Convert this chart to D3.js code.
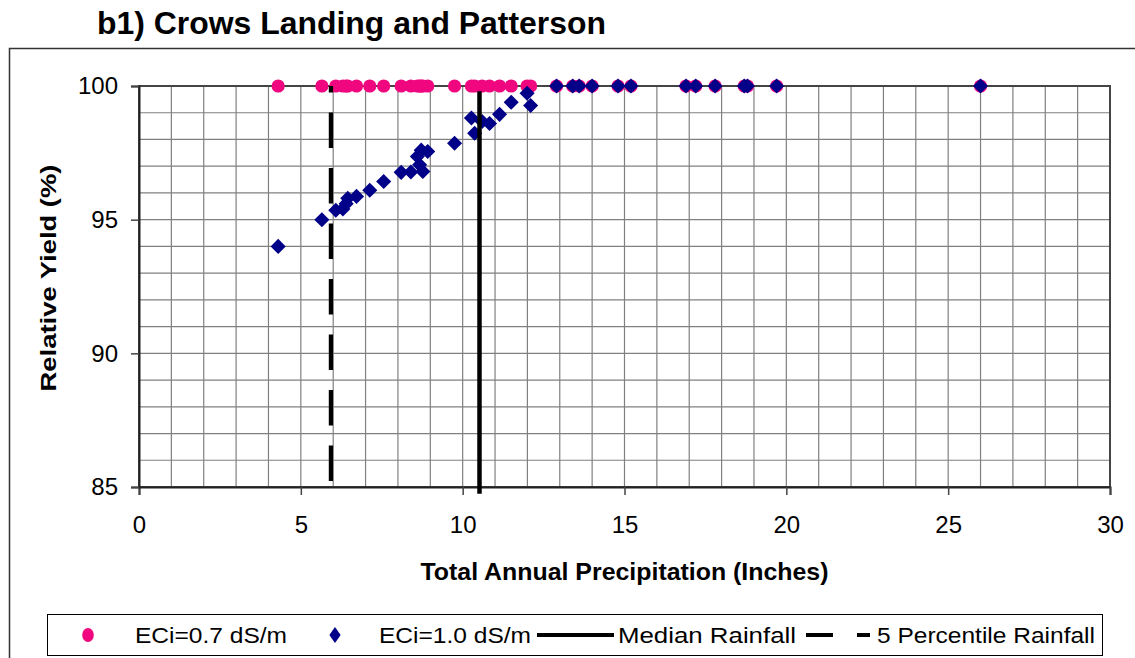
<!DOCTYPE html>
<html>
<head>
<meta charset="utf-8">
<script src="https://cdn.jsdelivr.net/npm/d3@7"></script>
<style>
  html, body { margin: 0; padding: 0; background: #fff; }
  svg { display: block; font-family: Arial, "Liberation Sans", sans-serif; }
</style>
</head>
<body>
<svg id="chart" width="1135" height="658"></svg>
<script>
// ---- data ----
const precip = [4.3, 5.65, 6.08, 6.3, 6.4, 6.45, 6.72, 7.13, 7.56, 8.1, 8.4, 8.6, 8.67, 8.72, 8.77, 8.92,
  9.75, 10.27, 10.37, 10.6, 10.83, 11.14, 11.5, 11.99, 12.1,
  12.9, 13.4, 13.6, 14.0, 14.8, 15.2, 16.9, 17.2, 17.8, 18.7, 18.8, 19.7, 26.0];
const yieldECi07 = [100, 100, 100, 100, 100, 100, 100, 100, 100, 100, 100, 100, 100, 100, 100, 100,
  100, 100, 100, 100, 100, 100, 100, 100, 100,
  100, 100, 100, 100, 100, 100, 100, 100, 100, 100, 100, 100, 100];
const yieldECi10 = [94.0, 95.0, 95.35, 95.4, 95.6, 95.8, 95.87, 96.1, 96.43, 96.77, 96.78, 97.36, 97.05, 97.6, 96.8, 97.55,
  97.86, 98.8, 98.23, 98.67, 98.6, 98.94, 99.39, 99.73, 99.27,
  100, 100, 100, 100, 100, 100, 100, 100, 100, 100, 100, 100, 100];
const medianRainfall = [{x: 10.52, y: 84.75}, {x: 10.52, y: 99.8}];
const pct5Rainfall = [{x: 5.93, y: 85.22}, {x: 5.93, y: 100}];
const xTicks = [0, 5, 10, 15, 20, 25, 30];
const yTicks = [85, 90, 95, 100];
const titleText = "b1) Crows Landing and Patterson";
const xTitle = "Total Annual Precipitation (Inches)";
const yTitle = "Relative Yield (%)";
const legendLabels = ["ECi=0.7 dS/m", "ECi=1.0 dS/m", "Median Rainfall", "5 Percentile Rainfall"];

// ---- layout ----
const svg = d3.select("#chart");
const L = 139, R = 1110, T = 86, B = 487;
const x = d3.scaleLinear().domain([0, 30]).range([L, R]);
const y = d3.scaleLinear().domain([85, 100]).range([B, T]);

svg.append("rect").attr("width", 1135).attr("height", 658).attr("fill", "#fff");

// outer chart border
svg.append("rect").attr("x", 9.5).attr("y", 48.5).attr("width", 1200).attr("height", 700)
  .attr("fill", "none").attr("stroke", "#333").attr("stroke-width", 1.5);

// title
svg.append("text").attr("x", 97).attr("y", 34)
  .attr("font-size", 31).attr("font-weight", "bold")
  .attr("textLength", 509).attr("lengthAdjust", "spacingAndGlyphs")
  .text(titleText);

// grid
const g = svg.append("g");
g.selectAll("line.vg").data(d3.range(1, 30)).join("line")
  .attr("x1", d => x(d)).attr("x2", d => x(d)).attr("y1", T).attr("y2", B)
  .attr("stroke", "#808080").attr("stroke-width", 1.2);
g.selectAll("line.hg").data(d3.range(86, 100)).join("line")
  .attr("y1", d => y(d)).attr("y2", d => y(d)).attr("x1", L).attr("x2", R)
  .attr("stroke", "#808080").attr("stroke-width", 1.2);

// plot border
svg.append("rect").attr("x", L).attr("y", T).attr("width", R - L).attr("height", B - T)
  .attr("fill", "none").attr("stroke", "#444").attr("stroke-width", 2);

// axes
const ax = svg.append("g").attr("transform", `translate(0,${B})`)
  .call(d3.axisBottom(x).tickValues(xTicks).tickSize(8).tickPadding(21).tickFormat(d3.format("d")));
ax.select(".domain").attr("stroke", "#222").attr("stroke-width", 2);
ax.selectAll(".tick line").attr("stroke", "#444").attr("stroke-width", 1.5);
ax.selectAll("text").attr("font-size", 24).attr("fill", "#000").attr("font-family", "Arial, 'Liberation Sans', sans-serif");

const ay = svg.append("g").attr("transform", `translate(${L},0)`)
  .call(d3.axisLeft(y).tickValues(yTicks).tickSize(8).tickPadding(13).tickFormat(d3.format("d")));
ay.select(".domain").attr("stroke", "#222").attr("stroke-width", 2);
ay.selectAll(".tick line").attr("stroke", "#444").attr("stroke-width", 1.5);
ay.selectAll("text").attr("font-size", 24).attr("fill", "#000").attr("font-family", "Arial, 'Liberation Sans', sans-serif");

// axis titles
svg.append("text").attr("x", (L + R) / 2 - 0).attr("y", 580).attr("text-anchor", "middle")
  .attr("font-size", 23).attr("font-weight", "bold")
  .attr("textLength", 408).attr("lengthAdjust", "spacingAndGlyphs")
  .text(xTitle);
svg.append("text").attr("transform", "translate(56,278) rotate(-90)").attr("text-anchor", "middle")
  .attr("font-size", 22).attr("font-weight", "bold")
  .attr("textLength", 227).attr("lengthAdjust", "spacingAndGlyphs")
  .text(yTitle);

// series
const pink = "#f0077f", navy = "#000088";
const pts07 = precip.map((p, i) => ({x: p, y: yieldECi07[i]}));
const pts10 = precip.map((p, i) => ({x: p, y: yieldECi10[i]}));
svg.append("g").selectAll("circle").data(pts07).join("circle")
  .attr("cx", d => x(d.x)).attr("cy", d => y(d.y)).attr("r", 6.6).attr("fill", pink);
const diamond = d3.symbol().type(d3.symbolDiamond2).size(145);
svg.append("g").selectAll("path").data(pts10).join("path")
  .attr("transform", d => `translate(${x(d.x)},${y(d.y)})`).attr("d", diamond).attr("fill", navy);

const line = d3.line().x(d => x(d.x)).y(d => y(d.y));
svg.append("path").datum(medianRainfall).attr("d", line)
  .attr("stroke", "#000").attr("stroke-width", 4.5).attr("fill", "none");
svg.append("path").datum(pct5Rainfall).attr("d", line)
  .attr("stroke", "#000").attr("stroke-width", 4.3).attr("fill", "none")
  .attr("stroke-dasharray", "35.5,20");

// legend
const lg = svg.append("g");
lg.append("rect").attr("x", 47.5).attr("y", 614.5).attr("width", 1055).attr("height", 41)
  .attr("fill", "#fff").attr("stroke", "#000").attr("stroke-width", 1);
const ly = 635;
lg.append("ellipse").attr("cx", 88).attr("cy", ly).attr("rx", 5.8).attr("ry", 7).attr("fill", pink);
lg.append("path").attr("transform", `translate(335,${ly}) scale(0.75,1.05)`).attr("d", diamond).attr("fill", navy);
lg.append("line").attr("x1", 537).attr("x2", 614).attr("y1", ly).attr("y2", ly)
  .attr("stroke", "#000").attr("stroke-width", 4);
lg.append("line").attr("x1", 806).attr("x2", 870).attr("y1", ly).attr("y2", ly)
  .attr("stroke", "#000").attr("stroke-width", 4).attr("stroke-dasharray", "27,24");
const legPos = [[135, 152], [379, 152], [618, 178], [877, 218]];
legendLabels.forEach((t, i) => {
  lg.append("text").attr("x", legPos[i][0]).attr("y", ly + 8)
    .attr("font-size", 22).attr("textLength", legPos[i][1]).attr("lengthAdjust", "spacingAndGlyphs")
    .text(t);
});
</script>
</body>
</html>
